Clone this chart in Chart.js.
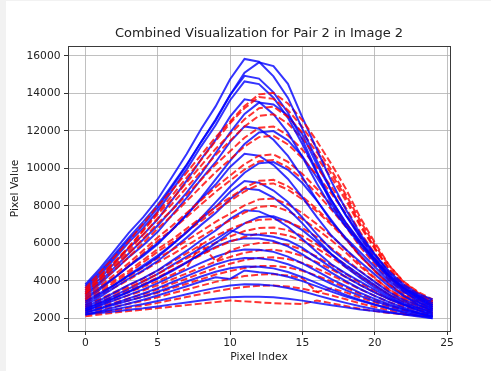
<!DOCTYPE html>
<html>
<head>
<meta charset="utf-8">
<script src="https://cdn.jsdelivr.net/npm/chart.js@4.4.1/dist/chart.umd.min.js"></script>
<style>
  html, body { margin: 0; padding: 0; background: #fff; }
  canvas { display: block; }
</style>
</head>
<body>
<canvas id="myChart" width="491" height="371"></canvas>
<script>
// x positions of the samples
const pixelIndex = [0, 1, 2, 3, 4, 5, 6, 7, 8, 9, 10, 11, 12, 13, 14, 15, 16, 17, 18, 19, 20, 21, 22, 23, 24];

const xTicks = [0, 5, 10, 15, 20, 25];
const yTicks = [2000, 4000, 6000, 8000, 10000, 12000, 14000, 16000];

// blue solid profiles
const blueLines = [
  [3800,4640,5590,6550,7390,8350,9550,10760,12090,13300,14750,15830,15680,14900,13750,12100,10400,8800,7500,6400,5400,4500,3800,3300,3000],
  [3700,4500,5400,6300,7150,8050,9100,10200,11400,12600,13900,15100,15650,15450,14500,12700,11000,9300,7800,6500,5400,4400,3700,3200,2900],
  [3600,4390,5290,6190,6980,7880,9020,10150,11410,12540,13910,14930,14780,14050,12960,11520,9800,8300,7100,6100,5100,4200,3600,3200,2800],
  [3500,4270,5160,6050,6820,7700,8820,9940,11170,12290,13630,14630,14490,13760,12690,11280,9750,8100,6900,5900,5000,4100,3500,3100,2700],
  [3400,4110,4930,5750,6460,7280,8310,9340,10480,11510,12750,13680,13540,12880,11900,10600,9190,7890,6900,6030,5150,4270,3610,3150,2700],
  [3300,3950,4700,5450,6200,6950,7800,8700,9700,10800,11900,12900,13500,13400,12800,11800,10200,8800,7500,6300,5200,4300,3600,3050,2600],
  [3200,3830,4550,5260,5890,6610,7510,8420,9420,10320,11410,12230,12110,11520,10660,9520,8290,7150,6280,5520,4750,3980,3390,3000,2600],
  [3100,3630,4150,4770,5390,6010,6720,7530,8420,9410,10390,11290,11910,11980,11490,10640,9510,8290,7070,6030,5080,4230,3470,2890,2500],
  [3000,3540,4160,4780,5320,5940,6720,7490,8350,9130,10070,10770,10670,10170,9430,8450,7390,6410,5670,5000,4340,3680,3180,2840,2500],
  [2900,3340,3780,4300,4820,5340,5930,6600,7350,8180,9010,9760,10270,10330,9920,9210,8270,7240,6220,5350,4560,3850,3210,2730,2400],
  [2800,3250,3770,4290,4740,5260,5920,6570,7290,7940,8730,9320,9230,8810,8200,7370,6490,5670,5050,4490,3940,3390,2970,2690,2400],
  [2700,3130,3630,4120,4550,5050,5670,6300,6980,7610,8360,8920,8840,8440,7840,7060,6210,5430,4830,4300,3780,3250,2850,2570,2300],
  [2600,2960,3370,3780,4140,4550,5070,5590,6160,6680,7300,7760,7700,7370,6880,6230,5530,4880,4390,3950,3520,3080,2750,2530,2300],
  [2500,2790,3090,3430,3780,4120,4520,4960,5460,6010,6560,7060,7400,7440,7170,6700,6070,5400,4720,4150,3630,3160,2740,2420,2200],
  [2500,2830,3210,3580,3960,4370,4830,5290,5750,6200,6700,6450,6450,6350,6150,5750,5220,4700,4210,3770,3370,3010,2700,2430,2200],
  [2400,2710,3060,3400,3750,4140,4570,4990,5420,5810,6120,6260,6250,6120,5830,5410,4920,4430,3980,3560,3190,2860,2570,2310,2100],
  [2400,2660,2950,3250,3540,3870,4230,4590,4950,5280,5540,5660,5650,5540,5290,4930,4510,4090,3710,3350,3030,2750,2500,2280,2100],
  [2300,2530,2790,3060,3320,3610,3930,4250,4570,4870,5100,5210,5200,5100,4880,4580,4210,3840,3500,3190,2910,2670,2450,2260,2100],
  [2300,2500,2720,2940,3160,3410,3680,3960,4230,4480,4670,4760,4750,4660,4470,4190,3870,3540,3250,2970,2730,2510,2310,2140,2000],
  [2200,2380,2580,2790,2990,3210,3460,3710,3960,4190,4100,4550,4450,4380,4210,3980,3700,3420,3160,2930,2720,2530,2360,2220,2100],
  [2200,2330,2470,2620,2760,2920,3100,3280,3460,3620,3750,3810,3800,3740,3610,3440,3220,3010,2820,2640,2480,2330,2200,2090,2000],
  [2200,2280,2360,2450,2530,2630,2740,2840,2950,3040,3120,3150,3150,3120,3040,2940,2810,2690,2580,2470,2380,2290,2220,2150,2100]
];

// red dashed profiles
const redLines = [
  [3600,4440,5270,6110,7050,7990,8830,9770,10710,11650,12490,13320,13940,14020,13450,12560,11450,10230,8910,7370,6040,4820,3930,3360,2900],
  [3500,4250,5000,5800,6700,7650,8550,9500,10450,11450,12400,13200,13800,13700,13100,12200,11100,9900,8600,7200,5900,4800,3950,3400,3000],
  [3400,4190,4980,5770,6670,7560,8350,9240,10140,11030,11820,12610,13200,13280,12740,11900,10850,9710,8460,7010,5760,4610,3770,3230,2800],
  [3300,4070,4840,5600,6470,7330,8100,8970,9830,10700,11460,12230,12800,12880,12380,11580,10580,9490,8290,6900,5710,4620,3820,3310,2900],
  [3300,4020,4730,5450,6250,7060,7780,8580,9390,10200,10910,11630,12160,12230,11750,10990,10050,9020,7890,6580,5460,4430,3670,3190,2800],
  [3200,3880,4570,5250,6020,6790,7480,8250,9020,9790,10470,11160,11660,11730,11270,10540,9640,8650,7580,6320,5250,4260,3530,3070,2700],
  [3100,3710,4320,4940,5620,6310,6930,7620,8300,8990,9610,10220,10670,10740,10340,9700,8910,8040,7090,5980,5030,4160,3530,3130,2800],
  [3000,3600,4190,4790,5460,6130,6730,7400,8070,8740,9340,9930,10370,10440,10050,9430,8650,7800,6880,5800,4880,4030,3410,3020,2700],
  [3000,3510,4020,4530,5110,5690,6200,6780,7360,7930,8440,8960,9330,9380,9040,8490,7820,7070,6260,5320,4520,3770,3230,2880,2600],
  [2900,3400,3910,4410,4980,5550,6050,6620,7190,7750,8260,8760,9140,9190,8860,8340,7700,6980,6210,5300,4530,3810,3290,2960,2700],
  [2900,3340,3780,4220,4710,5210,5650,6150,6640,7140,7580,8020,8340,8380,8080,7610,7020,6380,5680,4860,4160,3520,3050,2750,2500],
  [2800,3220,3630,4050,4520,4980,5400,5870,6340,6810,7220,7640,7950,7990,7720,7290,6750,6160,5510,4760,4120,3530,3090,2820,2600],
  [2700,3020,3390,3760,4120,4540,5000,5460,5920,6390,6750,7070,7250,7290,7140,6810,6330,5750,5140,4520,3940,3420,2990,2700,2500],
  [2700,2990,3320,3650,3980,4360,4780,5190,5610,6030,6360,6650,6810,6840,6700,6380,5940,5410,4840,4270,3740,3260,2860,2590,2400],
  [2600,2880,3190,3510,3820,4180,4580,4970,5370,5760,6080,6350,6510,6550,6420,6140,5730,5250,4730,4200,3720,3270,2910,2660,2500],
  [2600,2840,3120,3390,3670,3980,4330,4700,5950,5050,5600,5880,6010,6040,5920,5650,5280,4840,4360,3880,3430,3020,2690,2460,2300],
  [2500,2720,2970,3220,3480,3760,4080,4390,4710,5020,5270,5490,5620,5650,5550,5320,4990,4610,4190,3770,3380,3020,2730,2530,2400],
  [2400,2600,2830,3060,3280,3540,3830,4110,4400,4680,4910,5110,5220,5250,5160,4950,4650,4300,3920,3540,3190,2860,2600,2420,2300],
  [2400,2570,2760,2950,3140,3360,3600,3840,4080,4330,4520,4680,4780,4790,4710,4530,4270,3960,3630,3290,2980,2700,2470,2310,2200],
  [2300,2440,2610,2770,2930,3120,3330,3530,3740,3940,4110,4250,4330,4350,4280,4130,3400,3600,3380,3100,2850,2610,2420,2290,2200],
  [2200,2310,2430,2560,2680,2820,2980,3130,3290,3440,3570,3670,3730,3750,3690,3580,3410,3220,3010,2790,2600,2420,2270,2170,2100],
  [2100,2200,2300,2380,2460,2540,2620,2700,2780,2860,2950,2900,2850,2800,2780,2760,2950,2800,2650,2500,2380,2280,2200,2140,2100]
];

Chart.defaults.font.family = "'DejaVu Sans', sans-serif";
Chart.defaults.color = "#222";

function toPoints(values) {
  return values.map((v, i) => ({ x: pixelIndex[i], y: v }));
}

// blue and red drawn in pairs, like the original plot
let datasets = [];
for (let i = 0; i < Math.max(blueLines.length, redLines.length); i++) {
  if (blueLines[i]) {
    datasets.push({
      data: toPoints(blueLines[i]),
      borderColor: "rgba(0, 0, 255, 0.8)",
      borderWidth: 2,
      pointRadius: 0,
      tension: 0,
    });
  }
  if (redLines[i]) {
    datasets.push({
      data: toPoints(redLines[i]),
      borderColor: "rgba(255, 0, 0, 0.8)",
      borderWidth: 2,
      borderDash: [7, 3],
      pointRadius: 0,
      tension: 0,
    });
  }
}

// gray strip on the left and the box round the axes
const framePlugin = {
  id: "frame",
  beforeDraw(chart) {
    const c = chart.ctx;
    c.save();
    c.fillStyle = "#f2f2f2";
    c.fillRect(0, 0, 6, chart.height);
    c.fillRect(0, 0, chart.width, 1);
    c.restore();
  },
  afterDatasetsDraw(chart) {
    const a = chart.chartArea;
    const c = chart.ctx;
    c.save();
    c.strokeStyle = "#3a3a3a";
    c.lineWidth = 1;
    c.strokeRect(Math.round(a.left) + 0.5, Math.round(a.top) + 0.5,
      Math.round(a.right - a.left), Math.round(a.bottom - a.top));
    c.restore();
  },
};

const ctx = document.getElementById("myChart");

new Chart(ctx, {
  type: "line",
  data: { datasets: datasets },
  plugins: [framePlugin],
  options: {
    responsive: false,
    animation: false,
    devicePixelRatio: 1,
    layout: { padding: { left: 0, right: 41, top: 0, bottom: 0 } },
    plugins: {
      legend: { display: false },
      tooltip: { enabled: false },
      title: {
        display: true,
        fullSize: false,
        text: "Combined Visualization for Pair 2 in Image 2",
        font: { size: 13, weight: "normal" },
        color: "#222",
        padding: { top: 26, bottom: 4.4 },
      },
    },
    scales: {
      x: {
        type: "linear",
        min: -1.2,
        max: 25.2,
        afterBuildTicks: (scale) => {
          scale.ticks = xTicks.map((v) => ({ value: v }));
        },
        afterFit: (scale) => {
          scale.height = 40;
        },
        ticks: {
          font: { size: 10.7 },
          padding: 2,
          maxRotation: 0,
          callback: (value) => String(value),
        },
        grid: {
          color: "rgba(176, 176, 176, 0.8)",
          lineWidth: 1,
          tickLength: 4,
          tickColor: "#333",
        },
        border: { display: false },
        title: {
          display: true,
          text: "Pixel Index",
          font: { size: 10.7 },
          padding: { top: 0, bottom: 7 },
        },
      },
      y: {
        type: "linear",
        min: 1320,
        max: 16520,
        afterBuildTicks: (scale) => {
          scale.ticks = yTicks.map((v) => ({ value: v }));
        },
        afterFit: (scale) => {
          scale.width = 68;
        },
        ticks: {
          font: { size: 10.7 },
          padding: 3.5,
          callback: (value) => String(value),
        },
        grid: {
          color: "rgba(176, 176, 176, 0.8)",
          lineWidth: 1,
          tickLength: 4,
          tickColor: "#333",
        },
        border: { display: false },
        title: {
          display: true,
          text: "Pixel Value",
          font: { size: 10.7 },
          padding: { top: 8.6, bottom: 0 },
        },
      },
    },
  },
});
</script>
</body>
</html>
